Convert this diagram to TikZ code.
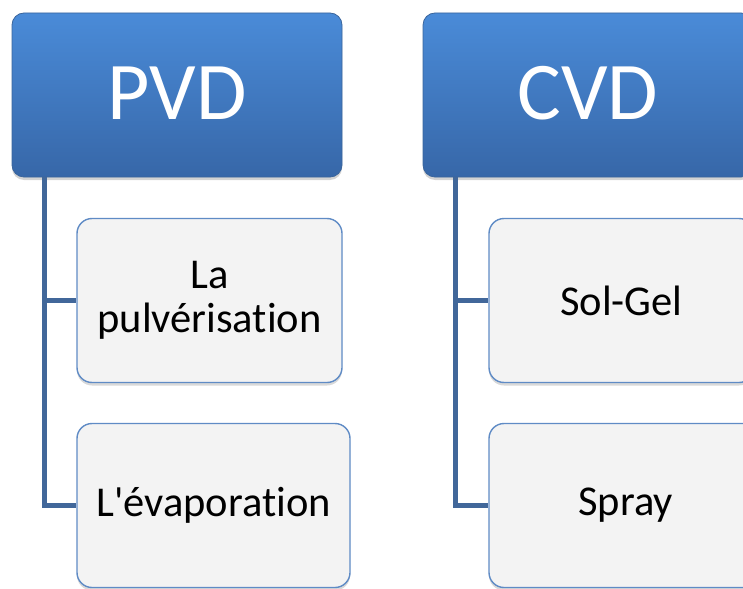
\documentclass[tikz,border=0pt]{standalone}
\usepackage{fontspec}
\setmainfont[Ligatures={NoCommon,TeXOff}]{Carlito}
\usetikzlibrary{shadows}

\definecolor{headtop}{HTML}{4A8BD8}
\definecolor{headbot}{HTML}{3767A8}
\definecolor{headline}{HTML}{3A659C}
\definecolor{itemfill}{HTML}{F3F3F3}
\definecolor{itemline}{HTML}{5F8BC5}
\definecolor{trunkcol}{HTML}{41679A}

\tikzset{
	head/.style = {rounded corners=12pt, draw=headline, line width=0.8pt,
		top color=headtop, bottom color=headbot, text=white,
		minimum width=330pt, minimum height=164pt,
		font=\fontsize{82}{90}\selectfont,
		drop shadow={shadow xshift=0pt, shadow yshift=-3pt, opacity=0.35}},
	item/.style = {rounded corners=15pt, draw=itemline, line width=1.4pt,
		fill=itemfill, text=black, align=center,
		minimum height=164pt,
		font=\fontsize{42.5}{44}\selectfont,
		drop shadow={shadow xshift=0pt, shadow yshift=-3pt, opacity=0.3}},
	trunk/.style = {draw=trunkcol, line width=4.5pt}
}

\begin{document}
\begin{tikzpicture}[x=1pt, y=-1pt]
	\useasboundingbox (0,0) rectangle (743,588);

	% left column
	\node (pvd)[head] at (177,95) {\raisebox{4pt}{PVD}};
	\node (pvd1)[item, minimum width=265pt] at (209.5,300.5) {La\\pulvérisation};
	\node (pvd2)[item, minimum width=273pt] at (213.5,505.5) {L'évaporation};

	% right column
	\node (cvd)[head] at (588,95) {\raisebox{4pt}{CVD}};
	\node (cvd1)[item, minimum width=265pt] at (621.5,300.5) {Sol-Gel};
	\node (cvd2)[item, minimum width=273pt] at (625.5,505.5) {Spray};

	\draw [trunk]([xshift=33pt]pvd.south west) |- (pvd1.west);
	\draw [trunk]([xshift=33pt]pvd.south west) |- (pvd2.west);
	\draw [trunk]([xshift=33pt]cvd.south west) |- (cvd1.west);
	\draw [trunk]([xshift=33pt]cvd.south west) |- (cvd2.west);
\end{tikzpicture}
\end{document}
